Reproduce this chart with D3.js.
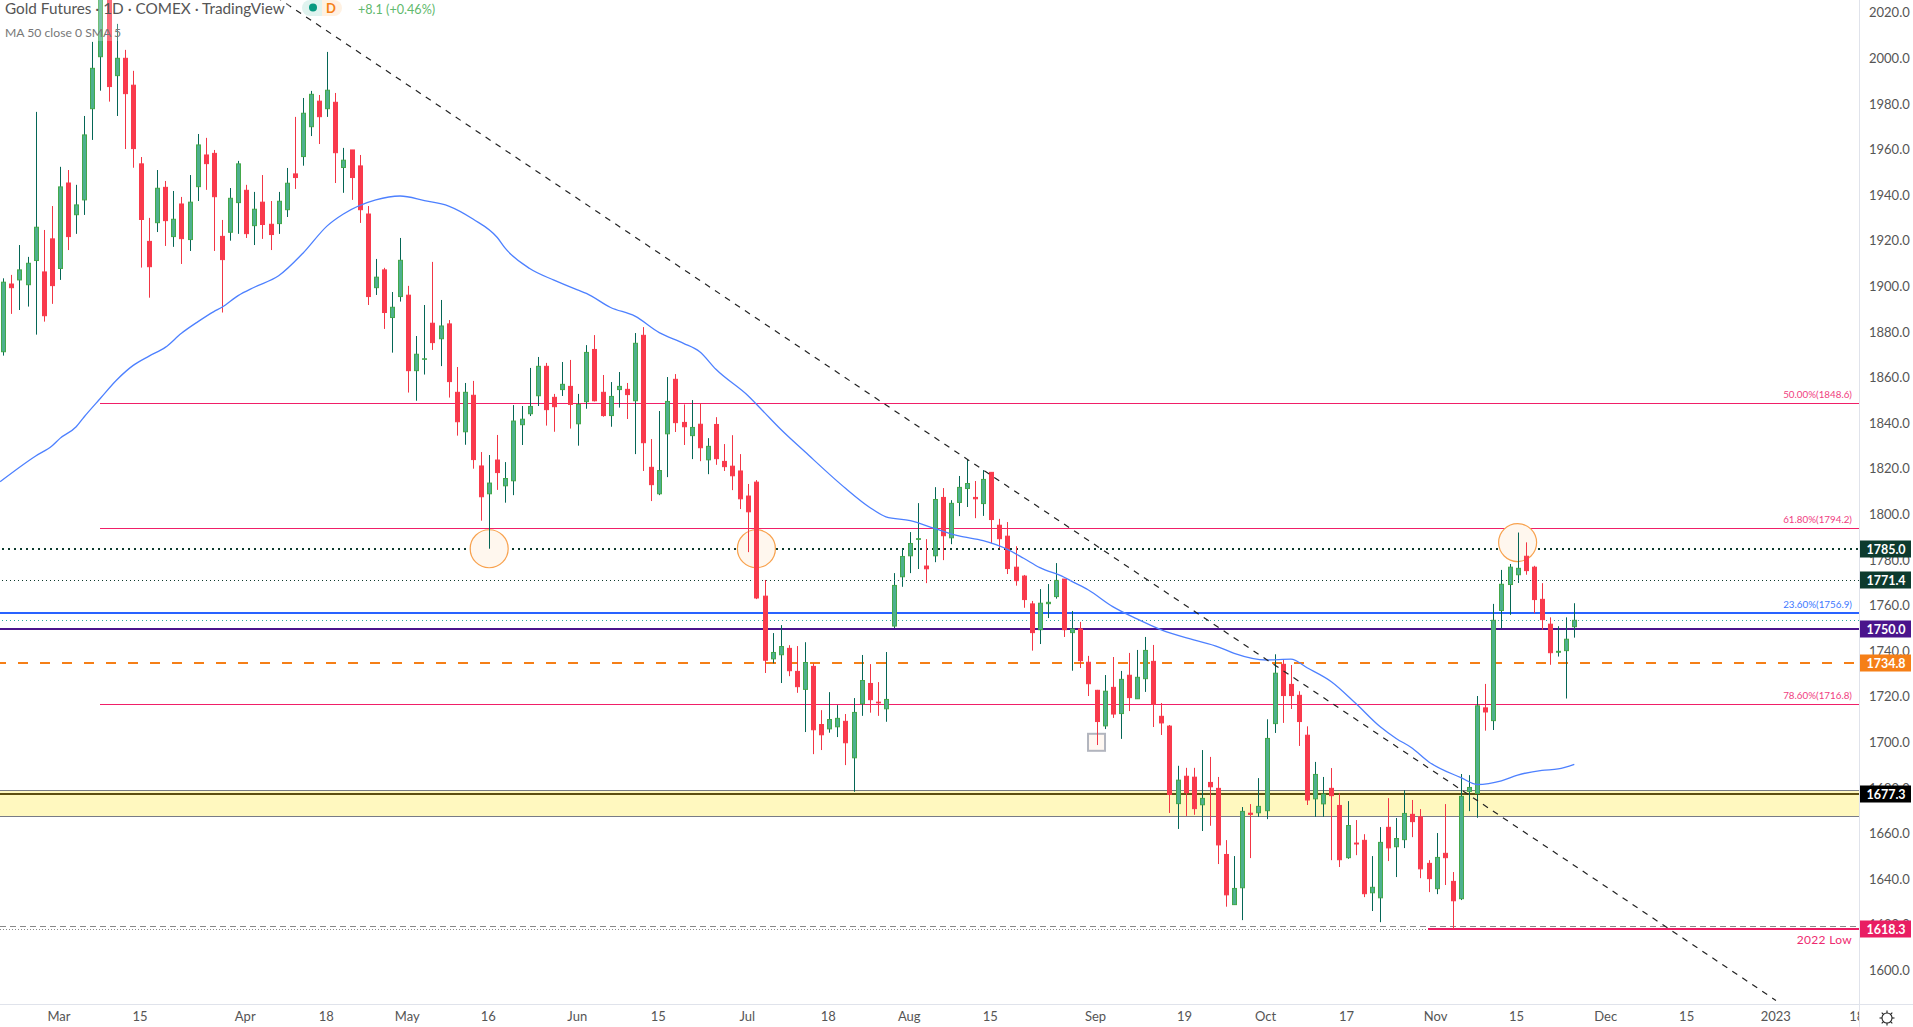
<!DOCTYPE html>
<html>
<head>
    <title>Gold Futures 1D</title>
    <script src="https://cdnjs.cloudflare.com/ajax/libs/d3/7.8.5/d3.min.js"></script>
    <style>
        html, body { margin: 0; padding: 0; background: #fff; overflow: hidden; }
        svg { display: block; font-family: Lato, "Noto Sans", sans-serif; }
        .axis .domain { display: none; }
        .axis text { fill: #555; font-size: 13px; font-family: Lato, "Noto Sans", sans-serif; }
    </style>
</head>
<body>
    <div id="chart"></div>
    <script>
        // daily candles: open, high, low, close
        var candles = [
            [1871.3,1903.5,1869.6,1901.8],[1901,1905,1887.9,1899.4],[1902.8,1918.1,1889.6,1907.2],[1900.7,1912.9,1891.1,1910.1],
            [1911.3,1976.5,1878.8,1925.9],[1906.3,1924.7,1884.5,1887.1],[1920.8,1935.2,1892.3,1900.3],[1907.8,1952.4,1902.8,1943.6],
            [1945.3,1951,1915.9,1921.8],[1931.4,1944.5,1923,1935.7],[1937.9,1974.7,1931.3,1966.4],[1977.9,2007.2,1964.2,1995.6],
            [2000.7,2045,1985.8,2030],[2030,2040,1981,1987.6],[1992.4,2015.1,1974.7,2000],[2000,2003.7,1960.2,1984.5],
            [1988.2,1994.5,1952,1960.4],[1953.7,1956.7,1908.2,1929.3],[1919.7,1930,1895,1908.6],[1927.9,1951,1923.8,1943],
            [1943.4,1946.2,1917.7,1928.8],[1921.8,1941.8,1917.3,1929.4],[1936.1,1939.2,1909.8,1920.9],[1920.5,1948.8,1915.5,1936.9],
            [1943.7,1966.8,1937.4,1962],[1957.6,1965.1,1942.3,1953.8],[1958.3,1959.8,1915.5,1939.3],[1921.9,1929.1,1888.5,1911.7],
            [1923.7,1943.1,1920,1938.6],[1936.7,1955,1923,1953.7],[1942.1,1944.5,1921.2,1923.1],[1926.6,1941.4,1918.1,1933.8],
            [1936.9,1948.8,1920.8,1927.1],[1927.2,1937.4,1915.9,1922.7],[1927.5,1941.4,1923,1937.3],[1933.6,1951.9,1930.4,1945.2],
            [1949.3,1974.3,1942.7,1947.7],[1956.9,1982.6,1952.9,1975.9],[1970,1985.7,1965.9,1984.2],[1981.2,1983.9,1962.4,1974.4],
            [1977.9,2002.8,1974.3,1986],[1980.7,1984.8,1945.3,1958.6],[1952.1,1960.7,1941,1955.3],[1959.8,1959.8,1937.9,1947.7],
            [1952.8,1957.6,1927.8,1933.6],[1931.7,1935.2,1891.8,1895.5],[1899.4,1912,1896.2,1904],[1907.2,1908.1,1881.3,1888.5],
            [1886.3,1897.5,1870.9,1890.8],[1895.5,1921.2,1893.3,1911.4],[1896.1,1900.2,1853.4,1863],[1863,1878.2,1849.8,1870.2],
            [1868,1891.8,1861.3,1868.2],[1883.8,1910.7,1872.1,1875.3],[1877,1894,1865,1882.6],[1883.5,1885.2,1851.2,1858.2],
            [1853.5,1864.6,1834.5,1840.6],[1836.2,1857.6,1830.5,1853.5],[1852.2,1858.5,1820,1824],[1821.2,1827.3,1797.2,1807.7],
            [1809,1826,1784.9,1813.7],[1823.8,1834.8,1810.7,1818.3],[1812.5,1822.9,1805.1,1815.7],[1814.7,1847.9,1808.4,1840.9],
            [1839.3,1847.5,1830.4,1841.7],[1844.1,1864.2,1843.1,1847.3],[1852,1869,1847.5,1864.9],[1864.9,1866.4,1838.9,1845.9],
            [1851.3,1852.8,1836.2,1847.2],[1854.7,1866.8,1851.9,1857],[1856.1,1867.7,1837.6,1848.2],[1839.7,1852.8,1830.1,1848.2],
            [1849.4,1874.2,1846.3,1871],[1872.3,1878.6,1849.5,1849.8],[1853.5,1861.1,1842.8,1843.3],[1843.3,1858,1838.4,1851.7],
            [1854.7,1862.4,1846.8,1856.1],[1854.8,1857.6,1841.8,1852.5],[1849.8,1879.5,1826.4,1875],[1878.5,1882.1,1819,1831.4],
            [1820.6,1833,1805.8,1813],[1809,1845.3,1808.4,1819.2],[1835.3,1860.2,1816.3,1849.5],[1859.2,1861.5,1836.1,1840.2],
            [1840.3,1848.2,1830.4,1838.4],[1834.5,1850.1,1824.2,1838.1],[1839.5,1848.7,1823.3,1829.2],[1823.9,1833.4,1817.6,1829.8],
            [1839.4,1842.6,1821.7,1824.4],[1823.2,1830.8,1819,1820.9],[1821.1,1834.7,1810.6,1816.9],[1819,1826.4,1802.3,1806.8],
            [1808,1813.3,1783.4,1801.1],[1814.1,1815,1762.8,1763.3],[1764.1,1771.2,1730.4,1736],[1736.6,1747.9,1734.6,1739.4],
            [1738.4,1751.4,1726,1742],[1741.2,1742.6,1729,1731.4],[1731.1,1742.2,1721.7,1724.4],[1723.2,1743.9,1704.5,1735],
            [1733.3,1734.6,1694.8,1705.5],[1707.8,1714.1,1696.6,1703.3],[1705.9,1722,1704.2,1710],[1706.8,1716.3,1702.3,1710.5],
            [1709.2,1712.4,1690,1699.8],[1693.2,1719.4,1678.3,1713.1],[1716.9,1738.3,1711.6,1727.1],[1725.8,1734.3,1713,1718.7],
            [1717.6,1726.4,1711.6,1717.3],[1714.7,1739.6,1709,1718.8],[1751,1774.2,1750.1,1768.8],[1772.6,1785,1768.2,1781.5],
            [1781.8,1792.2,1774.2,1787.2],[1789,1804.9,1776,1789.3],[1777.3,1789.1,1769.8,1776.1],[1781.8,1811.9,1779,1806.5],
            [1807.4,1811.5,1779.9,1790.6],[1789.7,1806.2,1786.9,1804.8],[1805.2,1816.8,1799.2,1811.8],[1811.3,1824.2,1803.2,1813.5],
            [1807.4,1814.6,1798.3,1806.8],[1804.7,1819.4,1799.3,1815.3],[1818.4,1818.4,1787.3,1797.7],[1795.2,1798,1785.1,1789.3],
            [1790.4,1796.6,1773.8,1776.2],[1776.8,1786,1768.7,1770.9],[1772.9,1773.4,1759,1762.6],[1760.7,1762,1740.2,1748.1],
            [1749.4,1767.2,1743.1,1761],[1760.8,1769.4,1754.5,1761.4],[1763.9,1778.6,1763,1771],[1771.6,1771.6,1746.2,1749.4],
            [1748.1,1757.6,1731.4,1749.7],[1749.7,1752.8,1732.6,1735.8],[1735.1,1737.9,1720.3,1725.7],[1722.8,1723,1698.8,1709.1],
            [1707.2,1729.5,1705.8,1722.4],[1724.1,1737.4,1710.7,1712.4],[1712.6,1731.3,1701.5,1727.6],[1729.4,1739.2,1713.7,1719.6],
            [1719.1,1740.5,1719.1,1728.5],[1727.9,1746.2,1722.1,1740.3],[1735.5,1742.7,1706.7,1716.7],[1711.4,1717.2,1703.2,1708.5],
            [1707.1,1707.6,1669,1677.1],[1673.1,1689.7,1662,1683.4],[1685.1,1688.8,1667.7,1677.9],[1684.7,1688.8,1668.2,1670.9],
            [1672.6,1696.6,1661.1,1675.4],[1682.4,1693.6,1663.4,1680.5],[1679.8,1684.8,1646.6,1655],[1650.8,1657.1,1627.9,1633.1],
            [1628.8,1650.1,1628.8,1635.9],[1636.2,1671.6,1622,1669.7],[1668.9,1672.9,1649.2,1668.4],[1669.1,1684.3,1667.3,1671.9],
            [1670,1710.1,1666.3,1701.7],[1708.2,1738.6,1704.1,1730.3],[1734.2,1736.1,1708.5,1720.5],[1725.4,1733.9,1714.6,1720.5],
            [1720.6,1722.4,1698.4,1709.1],[1703.1,1707,1672.5,1674.7],[1675.2,1691.4,1667.3,1685.9],[1673,1684.8,1667.3,1677.3],
            [1679.8,1688.7,1648.3,1676.6],[1672.3,1677.6,1645.3,1648.5],[1649.4,1674.2,1648.9,1663.5],[1655.8,1665.9,1650.5,1655.4],
            [1657,1659.7,1632.1,1633.6],[1634,1650.1,1626,1636.4],[1631.8,1662.8,1621.1,1656.1],[1662.7,1675.5,1647.9,1653.7],
            [1654.2,1666.8,1640.9,1657.8],[1657.3,1679,1653.6,1668.8],[1668.4,1674.7,1658.4,1665.2],[1667.3,1670.7,1640.4,1644.5],
            [1646.9,1648.3,1634.3,1640.2],[1635.8,1660.2,1633.4,1649.5],[1651.3,1672.9,1637.4,1649.4],[1639,1643.1,1618.1,1630.5],
            [1631.4,1686.1,1630.8,1676.3],[1678.5,1685.6,1669.8,1680.2],[1677.6,1720.3,1666.9,1716],[1715.1,1725.6,1705.1,1713.3],
            [1709.5,1760.7,1705.4,1753.5],[1757.8,1775.6,1750,1769.3],[1769.2,1778.2,1755.9,1776.8],[1773.5,1792,1769.9,1776.3],
            [1781.6,1787.7,1773.5,1775.3],[1776.8,1777.4,1756.6,1762.6],[1762.7,1769.8,1749.4,1753.8],[1751.8,1754.8,1734,1739.3],
            [1739.5,1750.9,1737.6,1739.9],[1740.2,1754.8,1719.2,1745.2],[1750.7,1761,1745.9,1753.5]
        ];

        // 50 day average, read at bar positions
        var ma50 = [
            [-0.4,1814.3],[4,1825.6],[6,1830],[7,1833.3],[9,1838.4],[10,1842.8],[12,1850.9],[14,1858.9],[16,1865.2],[18,1869.4],
            [20,1873.2],[22,1879.4],[24,1884.4],[26,1888.9],[27,1890.8],[29,1895.9],[31,1899.6],[34,1904.6],[37,1914.5],[40,1926.5],
            [42,1931.7],[46,1937.9],[49,1939.6],[52,1937.6],[55,1935.2],[58,1929.5],[61,1921.4],[62,1916.6],[65,1907.8],[68,1902.7],
            [71,1898.3],[72,1896.9],[75,1890.7],[78,1886.9],[81,1879.7],[84,1875],[86,1871.3],[88,1863.6],[92,1851.9],[94,1844.6],
            [96,1837.3],[99,1827.4],[104,1811.4],[107,1803],[109,1798.9],[112,1797.2],[115,1793.8],[118,1790.5],[121,1788.4],[124,1784.6],
            [126,1780.7],[128,1776.6],[131,1772.4],[132,1770.5],[134,1766.8],[137,1759.5],[140,1754.1],[143,1749.3],[147,1744.9],[150,1741.9],
            [152,1739],[156,1736.1],[159,1736.5],[161,1732.7],[164,1726.6],[167,1717.1],[170,1706.9],[172,1701.7],[174,1697.4],
            [176,1691.5],[180,1684.5],[182,1681.5],[185,1683.1],[187,1685.6],[190,1687.7],[192,1688.3],[194,1690.3]
        ];

        var width = 1913, height = 1027, plotW = 1859, plotH = 1004;

        var x = d3.scaleLinear().domain([0, 194]).range([3.3, 1574.3]);
        var y = d3.scaleLinear().domain([1600, 2000]).range([970.3, 58.3]);

        var monthTicks = {7:"Mar",17:"15",30:"Apr",40:"18",50:"May",60:"16",71:"Jun",81:"15",92:"Jul",102:"18",112:"Aug",122:"15",
            135:"Sep",146:"19",156:"Oct",166:"17",177:"Nov",187:"15",198:"Dec",208:"15",219:"2023",229:"18"};

        var svg = d3.select("#chart").append("svg").attr("width", width).attr("height", height);
        svg.append("defs").append("clipPath").attr("id", "plot").append("rect")
            .attr("width", plotW).attr("height", plotH);
        var plot = svg.append("g").attr("clip-path", "url(#plot)");

        function snap(v) { return Math.round(v) + 0.5; }

        // support zone
        plot.append("rect").attr("x", 0).attr("width", plotW)
            .attr("y", snap(y(1678.9))).attr("height", snap(y(1667.5)) - snap(y(1678.9)))
            .attr("fill", "#fff8bf");

        var levels = [
            {p: 1678.9, from: 0, c: "#787b86", w: 1},
            {p: 1667.5, from: 0, c: "#787b86", w: 1},
            {p: 1677.5, from: 0, c: "#5d4e10", w: 2},
            {p: 1848.6, from: 100, c: "#f01f68", w: 1.2},
            {p: 1793.8, from: 100, c: "#f01f68", w: 1.2},
            {p: 1716.7, from: 100, c: "#f01f68", w: 1.2},
            {p: 1756.8, from: 0, c: "#2962ff", w: 2},
            {p: 1749.8, from: 0, c: "#4a148c", w: 2},
            {p: 1784.9, from: 2, c: "#0d3b2e", w: 2, dash: "2,4"},
            {p: 1771.1, from: 2, c: "#0d3b2e", w: 1, dash: "1,3"},
            {p: 1753.5, from: 2, c: "#26a69a", w: 1, dash: "1,3"},
            {p: 1734.8, from: -4, c: "#f57f17", w: 2, dash: "10,12"},
            {p: 1619.3, from: 0, c: "#8a8a8a", w: 1, dash: "6,4"},
            {p: 1618.1, from: 0, to: 1428, c: "#888", w: 1, dash: "1,2"},
            {p: 1618.1, from: 1428, c: "#e91e63", w: 2}
        ];

        plot.selectAll("line.level").data(levels).enter().append("line")
            .classed("level", true)
            .attr("x1", function(d) { return d.from; })
            .attr("x2", function(d) { return d.to || plotW; })
            .attr("y1", function(d) { return d.w == 2 ? Math.round(y(d.p)) : snap(y(d.p)); })
            .attr("y2", function(d) { return d.w == 2 ? Math.round(y(d.p)) : snap(y(d.p)); })
            .attr("stroke", function(d) { return d.c; })
            .attr("stroke-width", function(d) { return d.w; })
            .attr("stroke-dasharray", function(d) { return d.dash || null; });

        // reaction markers
        var circles = [{i: 60, p: 1784.9}, {i: 93, p: 1784.9}, {i: 187, p: 1787.6}];
        plot.selectAll("circle.mark").data(circles).enter().append("circle")
            .classed("mark", true)
            .attr("cx", function(d) { return x(d.i); })
            .attr("cy", function(d) { return y(d.p); })
            .attr("r", 19)
            .attr("fill", "#fff7ee")
            .attr("stroke", "#f8a24e")
            .attr("stroke-width", 1.2);

        plot.append("rect")
            .attr("x", x(135) - 8.5).attr("y", y(1700) - 8.5)
            .attr("width", 17).attr("height", 17)
            .attr("fill", "#fff8f2").attr("stroke", "#b2b5be").attr("stroke-width", 2);

        // candles
        var bar = plot.selectAll("g.candle").data(candles).enter().append("g").classed("candle", true);

        bar.append("line")
            .attr("x1", function(d, i) { return snap(x(i)); })
            .attr("x2", function(d, i) { return snap(x(i)); })
            .attr("y1", function(d) { return y(d[1]); })
            .attr("y2", function(d) { return y(d[2]); })
            .attr("stroke", function(d) { return d[3] >= d[0] ? "#056656" : "#f23645"; });

        bar.append("rect")
            .attr("x", function(d, i) { return snap(x(i)) - 2; })
            .attr("width", 4)
            .attr("y", function(d) { return y(Math.max(d[0], d[3])); })
            .attr("height", function(d) { return Math.max(0.5, Math.abs(y(d[0]) - y(d[3]))); })
            .attr("fill", function(d) { return d[3] >= d[0] ? "#4db08f" : "#f93a4c"; })
            .attr("stroke", function(d) { return d[3] >= d[0] ? "#43a84a" : "#f93a4c"; });

        // moving average and trend line
        plot.append("path")
            .datum(ma50)
            .attr("fill", "none")
            .attr("stroke", "#4d80ff")
            .attr("stroke-width", 1.3)
            .attr("d", d3.line().curve(d3.curveMonotoneX)
                .x(function(d) { return x(d[0]); })
                .y(function(d) { return y(d[1]); }));

        var trend = [[30, 2035.7], [218.9, 1586.8]];
        plot.append("line")
            .attr("x1", x(trend[0][0])).attr("y1", y(trend[0][1]))
            .attr("x2", x(trend[1][0])).attr("y2", y(trend[1][1]))
            .attr("stroke", "#222").attr("stroke-width", 1.2).attr("stroke-dasharray", "6,6");

        // fib labels
        var fibs = [
            {t: "50.00%(1848.6)", p: 1848.6, c: "#f0407f"},
            {t: "61.80%(1794.2)", p: 1793.8, c: "#f0407f"},
            {t: "23.60%(1756.9)", p: 1756.8, c: "#3d78ff"},
            {t: "78.60%(1716.8)", p: 1716.7, c: "#f0407f"}
        ];
        plot.selectAll("text.fib").data(fibs).enter().append("text")
            .classed("fib", true)
            .attr("x", 1852)
            .attr("y", function(d) { return y(d.p) - 5; })
            .attr("text-anchor", "end")
            .attr("font-size", 9.8)
            .attr("fill", function(d) { return d.c; })
            .text(function(d) { return d.t; });

        plot.append("text").attr("x", 1852).attr("y", y(1618.1) + 15)
            .attr("text-anchor", "end").attr("font-size", 12).attr("fill", "#ee2a70")
            .attr("letter-spacing", "0.3px").text("2022 Low");

        // axes
        svg.append("line").attr("x1", plotW + 0.5).attr("x2", plotW + 0.5).attr("y1", 0).attr("y2", height)
            .attr("stroke", "#e0e3eb");
        svg.append("line").attr("x1", 0).attr("x2", width).attr("y1", plotH + 0.5).attr("y2", plotH + 0.5)
            .attr("stroke", "#e0e3eb");

        var yAxis = d3.axisRight(y).tickValues(d3.range(1600, 2021, 20)).tickSize(0).tickPadding(10)
            .tickFormat(d3.format(".1f"));
        svg.append("g").attr("class", "axis").attr("transform", "translate(" + plotW + ",0)").call(yAxis);

        var xAxis = d3.axisBottom(x).tickValues(Object.keys(monthTicks).map(Number)).tickSize(0).tickPadding(8)
            .tickFormat(function(d) { return monthTicks[d]; });
        svg.append("g").attr("class", "axis").attr("clip-path", "url(#xclip)")
            .attr("transform", "translate(0," + plotH + ")").call(xAxis)
            .selectAll("text").attr("dx", -1.5);
        svg.append("defs").append("clipPath").attr("id", "xclip").append("rect")
            .attr("width", plotW).attr("height", 23);

        // price badges
        var badges = [
            {t: "1785.0", p: 1784.9, c: "#0d3b2e"},
            {t: "1771.4", p: 1771.1, c: "#0d3b2e"},
            {t: "1750.0", p: 1749.8, c: "#4a148c"},
            {t: "1734.8", p: 1734.8, c: "#f57f17"},
            {t: "1677.3", p: 1677.5, c: "#000"},
            {t: "1618.3", p: 1618.1, c: "#e91e63"}
        ];
        var badge = svg.selectAll("g.badge").data(badges).enter().append("g").classed("badge", true)
            .attr("transform", function(d) { return "translate(" + (plotW + 1) + "," + Math.round(y(d.p)) + ")"; });
        badge.append("rect").attr("y", -8.5).attr("width", 51).attr("height", 17)
            .attr("fill", function(d) { return d.c; });
        badge.append("text").attr("x", 26).attr("y", 5).attr("text-anchor", "middle")
            .attr("font-size", 12.5).attr("font-weight", 700).attr("fill", "#fff")
            .text(function(d) { return d.t; });

        // legend, sits over the candles
        svg.append("rect").attr("width", 290).attr("height", 16).attr("fill", "#fff").attr("opacity", 0.25);
        svg.append("rect").attr("y", 16).attr("width", 125).attr("height", 25).attr("fill", "#fff").attr("opacity", 0.25);
        svg.append("text").attr("x", 5).attr("y", 14).attr("font-size", 15.3).attr("fill", "#555")
            .text("Gold Futures · 1D · COMEX · TradingView");
        svg.append("text").attr("x", 5).attr("y", 37).attr("font-size", 12.2).attr("fill", "#777")
            .text("MA 50 close 0 SMA 5");

        svg.append("path").attr("d", "M322,0H310a8,8 0 0 0 0,16H322Z").attr("fill", "#e0f3ef");
        svg.append("path").attr("d", "M322,0H334a8,8 0 0 1 0,16H322Z").attr("fill", "#fff1e2");
        svg.append("circle").attr("cx", 313).attr("cy", 7.5).attr("r", 4).attr("fill", "#089981");
        svg.append("text").attr("x", 331).attr("y", 12.5).attr("text-anchor", "middle").attr("font-size", 13)
            .attr("font-weight", 700).attr("fill", "#f57f17").text("D");
        svg.append("text").attr("x", 358).attr("y", 14).attr("font-size", 12.6).attr("fill", "#5fb96d")
            .text("+8.1 (+0.46%)");

        // settings gear
        var gear = svg.append("g").attr("transform", "translate(1887,1018)")
            .attr("stroke", "#222").attr("stroke-width", 1.1).attr("fill", "none");
        gear.append("circle").attr("r", 5);
        gear.selectAll("line").data(d3.range(8)).enter().append("line")
            .attr("x1", function(d) { return 5 * Math.cos(d * Math.PI / 4); })
            .attr("y1", function(d) { return 5 * Math.sin(d * Math.PI / 4); })
            .attr("x2", function(d) { return 7.5 * Math.cos(d * Math.PI / 4); })
            .attr("y2", function(d) { return 7.5 * Math.sin(d * Math.PI / 4); });
    </script>
</body>
</html>
